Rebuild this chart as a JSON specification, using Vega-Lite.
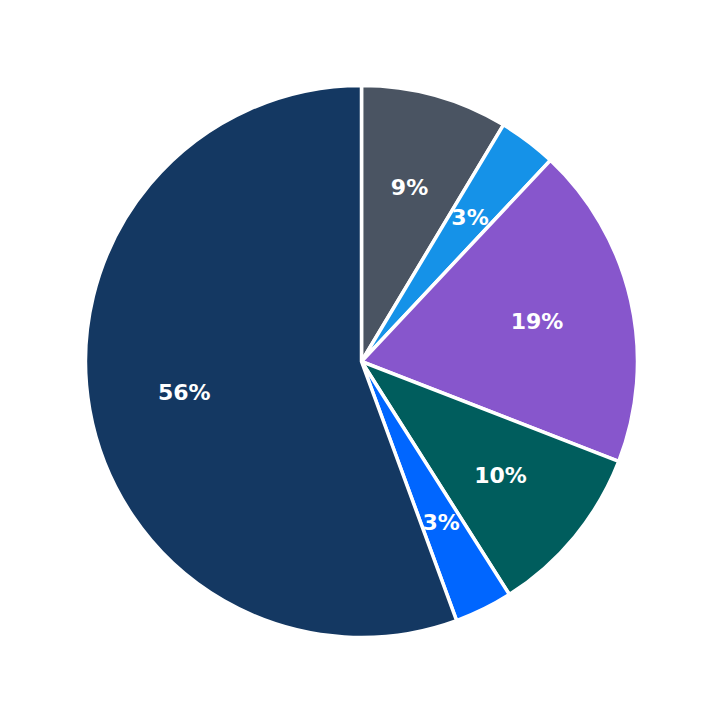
{
  "$schema": "https://vega.github.io/schema/vega-lite/v6.json",
  "width": 723,
  "height": 723,
  "autosize": {"type": "fit", "contains": "padding"},
  "padding": 0,
  "background": "white",
  "config": {"view": {"stroke": null}},
  "data": {
    "values": [
      {"slice": "A", "order": 1, "share": 0.086},
      {"slice": "B", "order": 2, "share": 0.034},
      {"slice": "C", "order": 3, "share": 0.189},
      {"slice": "D", "order": 4, "share": 0.101},
      {"slice": "E", "order": 5, "share": 0.034},
      {"slice": "F", "order": 6, "share": 0.556}
    ]
  },
  "encoding": {
    "theta": {"field": "share", "type": "quantitative", "stack": true},
    "order": {"field": "order", "type": "quantitative"},
    "color": {
      "field": "slice",
      "type": "nominal",
      "legend": null,
      "scale": {
        "domain": ["A", "B", "C", "D", "E", "F"],
        "range": ["#4a5462", "#1592e8", "#8756cc", "#005d5d", "#0066ff", "#143862"]
      }
    }
  },
  "layer": [
    {
      "mark": {"type": "arc", "outerRadius": 276, "stroke": "white", "strokeWidth": 3.5}
    },
    {
      "mark": {
        "type": "text",
        "radius": 180,
        "font": "DejaVu Sans",
        "fontWeight": "bold",
        "fontSize": 22,
        "fill": "white"
      },
      "encoding": {
        "text": {"field": "share", "type": "quantitative", "format": ".0%"},
        "color": {"value": "white"}
      }
    }
  ]
}
